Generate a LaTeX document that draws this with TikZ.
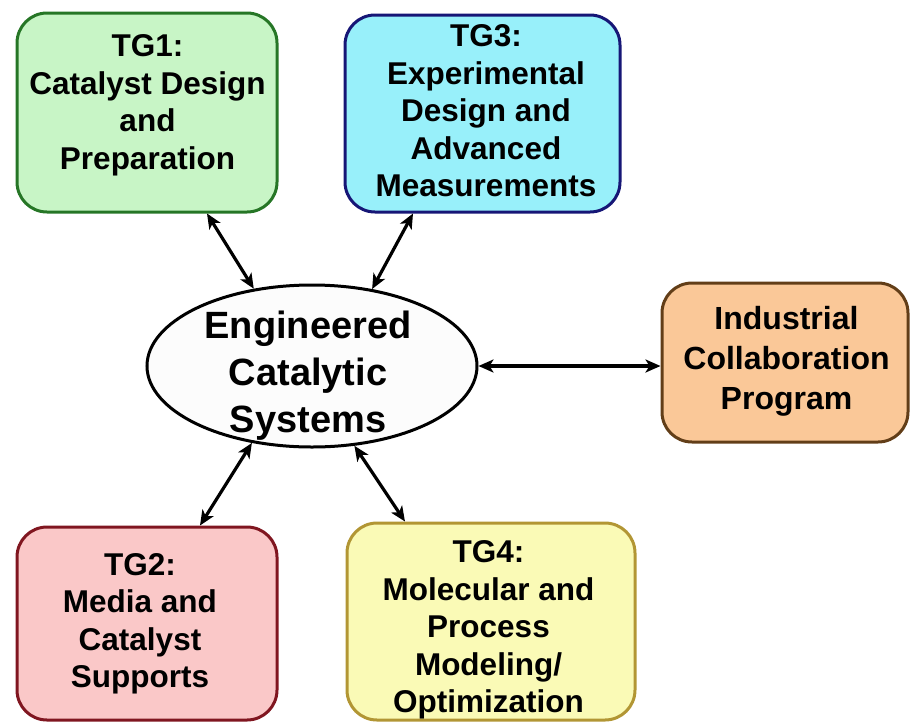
\documentclass[tikz,border=0pt]{standalone}
\usepackage{fontspec}
\setmainfont{Liberation Sans}
\usetikzlibrary{arrows.meta,shapes.geometric}

\definecolor{gfill}{RGB}{200,245,198}
\definecolor{gline}{RGB}{38,118,38}
\definecolor{cfill}{RGB}{152,240,250}
\definecolor{cline}{RGB}{22,22,118}
\definecolor{ofill}{RGB}{250,200,152}
\definecolor{oline}{RGB}{98,62,24}
\definecolor{pfill}{RGB}{250,200,200}
\definecolor{pline}{RGB}{128,22,32}
\definecolor{yfill}{RGB}{250,250,182}
\definecolor{yline}{RGB}{178,150,52}

\tikzset{
  tgbox/.style={rectangle, rounded corners=30pt, line width=3pt,
    inner sep=0pt},
  hub/.style={ellipse, draw=black, line width=3pt, fill=white!99!black,
    inner sep=0pt, minimum width=330pt, minimum height=162pt},
  lbl/.style={align=center, inner sep=0pt,
    font=\fontsize{31.5}{37.5}\selectfont\bfseries},
  hublbl/.style={align=center, inner sep=0pt,
    font=\fontsize{38}{46.7}\selectfont\bfseries},
  tipend/.style={Stealth[length=15pt,width=13pt,inset=4pt]},
  link/.style={line width=3.2pt, black, {Stealth[length=15pt,width=13pt,inset=4pt]}-{Stealth[length=15pt,width=13pt,inset=4pt]}}
}

\begin{document}
\begin{tikzpicture}[x=1pt, y=-1pt]
\useasboundingbox (0,0) rectangle (911,724);

% working groups around the central topic
\node[tgbox, fill=gfill, draw=gline, minimum width=260pt, minimum height=199pt]
  (tg1) at (147,112.5) {};
\node[lbl] (tg1t) at (147.5,105.5) {TG1:\\Catalyst Design\\and\\Preparation};

\node[tgbox, fill=cfill, draw=cline, minimum width=275pt, minimum height=197pt]
  (tg3) at (482.5,113.5) {};
\node[lbl] (tg3t) at (486,111) {TG3:\\Experimental\\Design and\\Advanced\\Measurements};

\node[tgbox, fill=ofill, draw=oline, minimum width=246pt, minimum height=159pt]
  (ind) at (785,362.5) {};
\node[lbl, font=\fontsize{32}{40}\selectfont\bfseries] (indt) at (786.5,361.5)
  {Industrial\\Collaboration\\Program};

\node[tgbox, fill=pfill, draw=pline, minimum width=260pt, minimum height=193pt]
  (tg2) at (147,623.5) {};
\node[lbl] (tg2t) at (140,624) {TG2:\\Media and\\Catalyst\\Supports};

\node[tgbox, fill=yfill, draw=yline, minimum width=288pt, minimum height=197pt]
  (tg4) at (491,621.5) {};
\node[lbl] (tg4t) at (488.5,630) {TG4:\\Molecular and\\Process\\Modeling/\\Optimization};

% central topic
\node[hub] (ecs) at (312,366) {};
\node[hublbl] (ecst) at (308,375.5) {Engineered\\Catalytic\\Systems};

% two-way links
\draw[link] ([xshift=60pt]tg1.south) -- (ecs.127);
\draw[link] ([xshift=-69.5pt]tg3.south) -- (ecs.52);
\draw[link] (ecs.east) -- (ecs.east -| ind.west);
\draw[link] (ecs.232) -- ([xshift=53pt]tg2.north);
\draw[link] (ecs.298) -- ([xshift=-86pt]tg4.north);
\end{tikzpicture}
\end{document}
